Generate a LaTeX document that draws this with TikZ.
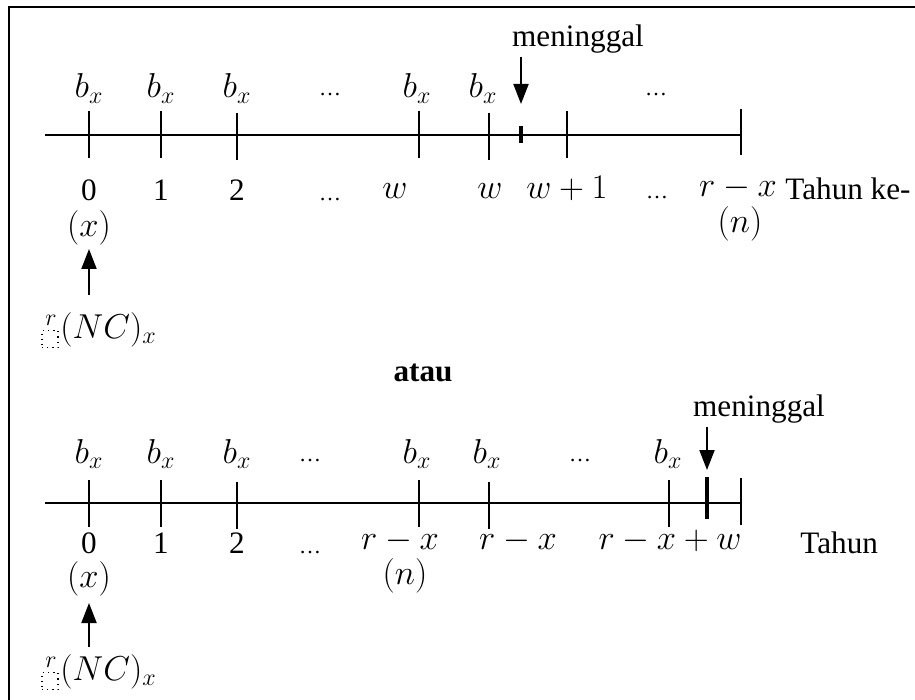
\documentclass[tikz,border=0pt]{standalone}
\usepackage{fontspec}
\setmainfont{Liberation Serif}
\usetikzlibrary{arrows.meta}
\begin{document}
\begin{tikzpicture}[x=0.5pt,y=-0.5pt,
  every node/.style={font=\fontsize{15.6}{18}\selectfont, inner sep=0pt, anchor=base},
  mth/.style={font=\fontsize{17}{20}\selectfont},
  ellip/.style={font=\fontsize{11}{13}\selectfont},
  axisline/.style={line width=1pt},
  tickmark/.style={line width=0.8pt},
  deathmark/.style={line width=2.2pt},
  arr/.style={line width=1pt,-{Triangle[width=7.5pt,length=10pt]}},
  frameline/.style={line width=1.1pt},
  phbox/.style={draw, dotted, line width=0.6pt, minimum width=8pt, minimum height=8.5pt, inner sep=0pt, anchor=center}]
\useasboundingbox (0,0) rectangle (915,700);
\draw[frameline] (9,700) -- (9,7) -- (915,7);

% ===== top timeline =====
\coordinate (ta) at (45,135); \coordinate (tb) at (741,135);
\draw[axisline] (ta) -- (tb);
\draw[tickmark] (89,111) -- (89,158);
\draw[tickmark] (161,111) -- (161,158);
\draw[tickmark] (237,113) -- (237,160);
\draw[tickmark] (419,111) -- (419,158);
\draw[tickmark] (489,113) -- (489,160);
\draw[tickmark] (567,111) -- (567,158);
\draw[tickmark] (741,109) -- (741,155);
\coordinate (td1) at (521,126); \coordinate (td2) at (521,143);
\draw[deathmark] (td1) -- (td2);

\node[mth] (tb0) at (89,98) {$b_x$};
\node[mth] (tb1) at (161,98) {$b_x$};
\node[mth] (tb2) at (237,98) {$b_x$};
\node[ellip] (tdots1) at (330,96) {…};
\node[mth] (tbw) at (417,98) {$b_x$};
\node[mth] (tbw2) at (483,98) {$b_x$};
\node[ellip] (tdots2) at (656,96) {…};
\node (tmen) at (578,47) {meninggal};
\coordinate (tms) at (521,57); \coordinate (tme) at (521,104);
\draw[arr] (tms) -- (tme);

\node (tl0) at (89,201) {0};
\node (tl1) at (161,201) {1};
\node (tl2) at (237,201) {2};
\node[ellip] (tldots1) at (330,201) {…};
\node[mth] (tlw) at (395,199) {$w$};
\node[mth] (tlw2) at (490,199) {$w$};
\node[mth] (tlw1) at (567,199) {$w+1$};
\node[ellip] (tldots2) at (657,199) {…};
\node[mth] (tlrx) at (738,197) {$r-x$};
\node[anchor=base west] (ttahun) at (785,200) {Tahun ke-};
\node[mth] (tlx) at (89,237) {$(x)$};
\node[mth] (tln) at (740,233) {$(n)$};

\coordinate (tus) at (89,295); \coordinate (tue) at (89,249);
\draw[arr] (tus) -- (tue);
\node[mth, anchor=base west] (tnc) at (60,338) {$(NC)_x$};
\node[phbox] (tbox) at (50,339) {};
\node[mth] (tr) at (51,325) {$\scriptstyle r$};

\node[font=\fontsize{15.6}{18}\selectfont\bfseries] (atau) at (423,381) {atau};

% ===== bottom timeline =====
\coordinate (ba) at (45,503); \coordinate (bb) at (741,503);
\draw[axisline] (ba) -- (bb);
\draw[tickmark] (89,480) -- (89,527);
\draw[tickmark] (161,480) -- (161,527);
\draw[tickmark] (237,482) -- (237,529);
\draw[tickmark] (419,480) -- (419,527);
\draw[tickmark] (489,482) -- (489,529);
\draw[tickmark] (669,480) -- (669,527);
\draw[tickmark] (741,478) -- (741,525);
\coordinate (bd1) at (707,477); \coordinate (bd2) at (707,519);
\draw[deathmark] (bd1) -- (bd2);

\node[mth] (bb0) at (89,463) {$b_x$};
\node[mth] (bb1) at (161,463) {$b_x$};
\node[mth] (bb2) at (237,463) {$b_x$};
\node[ellip] (bdots1) at (310,461) {…};
\node[mth] (bbn) at (417,463) {$b_x$};
\node[mth] (bbn2) at (487,463) {$b_x$};
\node[ellip] (bdots2) at (580,461) {…};
\node[mth] (bbw) at (668,463) {$b_x$};
\node (bmen) at (759,416) {meninggal};
\coordinate (bms) at (707,427); \coordinate (bme) at (707,470);
\draw[arr] (bms) -- (bme);

\node (bl0) at (89,553) {0};
\node (bl1) at (161,553) {1};
\node (bl2) at (237,553) {2};
\node[ellip] (bldots) at (310,553) {…};
\node[mth] (blrx) at (400,549) {$r-x$};
\node[mth] (blrx2) at (518,549) {$r-x$};
\node[mth] (blrxw) at (670,549) {$r-x+w$};
\node[anchor=base west] (btahun) at (800,553) {Tahun};
\node[mth] (blx) at (89,587) {$(x)$};
\node[mth] (bln) at (405,584) {$(n)$};

\coordinate (bus) at (89,647); \coordinate (bue) at (89,603);
\draw[arr] (bus) -- (bue);
\node[mth, anchor=base west] (bnc) at (60,680) {$(NC)_x$};
\node[phbox] (bbox) at (50,681) {};
\node[mth] (br) at (51,667) {$\scriptstyle r$};
\end{tikzpicture}
\end{document}
